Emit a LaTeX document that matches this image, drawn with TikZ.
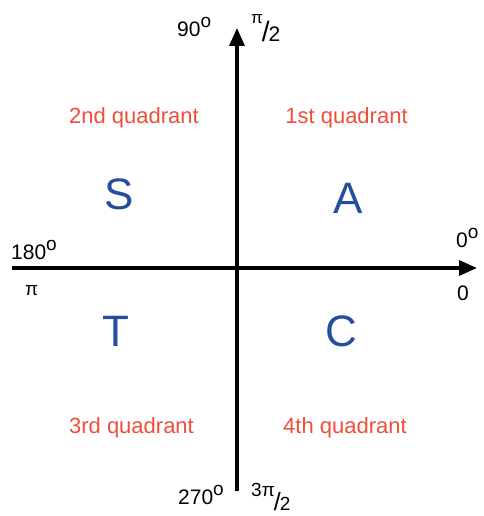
\documentclass[tikz,border=0pt]{standalone}
\usepackage{fontspec}
\setmainfont{Liberation Sans}
\usetikzlibrary{arrows.meta}
\definecolor{qred}{RGB}{238,78,58}
\definecolor{qblue}{RGB}{38,78,158}
\newcommand{\degsym}{\raisebox{9pt}{\fontsize{19}{19}\selectfont o}}
\tikzset{
  axis/.style={line width=3.5pt, -{Triangle[length=18pt,width=15pt]}},
  quad/.style={text=qred, font=\fontsize{22}{22}\selectfont, inner sep=0pt, anchor=base},
  letter/.style={text=qblue, font=\fontsize{44}{44}\selectfont, inner sep=0pt, anchor=base},
  lab/.style={font=\fontsize{21}{21}\selectfont, inner sep=0pt, anchor=base west},
}
\begin{document}
\begin{tikzpicture}[x=1pt,y=-1pt]
\useasboundingbox (0,0) rectangle (483,516);
\coordinate (left) at (12,268);
\coordinate (right) at (477,268);
\coordinate (bottom) at (237,491);
\coordinate (top) at (237,28);
\draw[axis] (left) -- (right);
\draw[axis] (bottom) -- (top);
\node[quad] (q2) at (134,123) {2nd quadrant};
\node[quad] (q1) at (346.5,123) {1st quadrant};
\node[quad] (q3) at (131.5,433) {3rd quadrant};
\node[quad] (q4) at (345,433) {4th quadrant};
\node[letter] (S) at (119.5,209) {S};
\node[letter] (A) at (348,213) {A};
\node[letter] (T) at (115.5,346) {T};
\node[letter] (C) at (341,346) {C};
\node[lab] (d90) at (177,37) {90\degsym};
\node[lab] (p2) at (251,42) {\raisebox{18pt}{\fontsize{17}{17}\selectfont π}\hspace{-1pt}{\fontsize{28}{28}\selectfont /}\hspace{-1pt}2};
\node[lab] (d180) at (11,259) {180\degsym};
\node[lab, font=\fontsize{19}{19}\selectfont] (pi) at (25,295) {π};
\node[lab] (d0) at (456,247) {0\degsym};
\node[lab] (z) at (457,300) {0};
\node[lab] (d270) at (178,504) {270\degsym};
\node[lab] (p32) at (251,510) {\raisebox{14pt}{\fontsize{19}{19}\selectfont 3π}\hspace{-1pt}{\fontsize{25}{25}\selectfont /}\hspace{-1pt}{\fontsize{19}{19}\selectfont 2}};
\end{tikzpicture}
\end{document}
